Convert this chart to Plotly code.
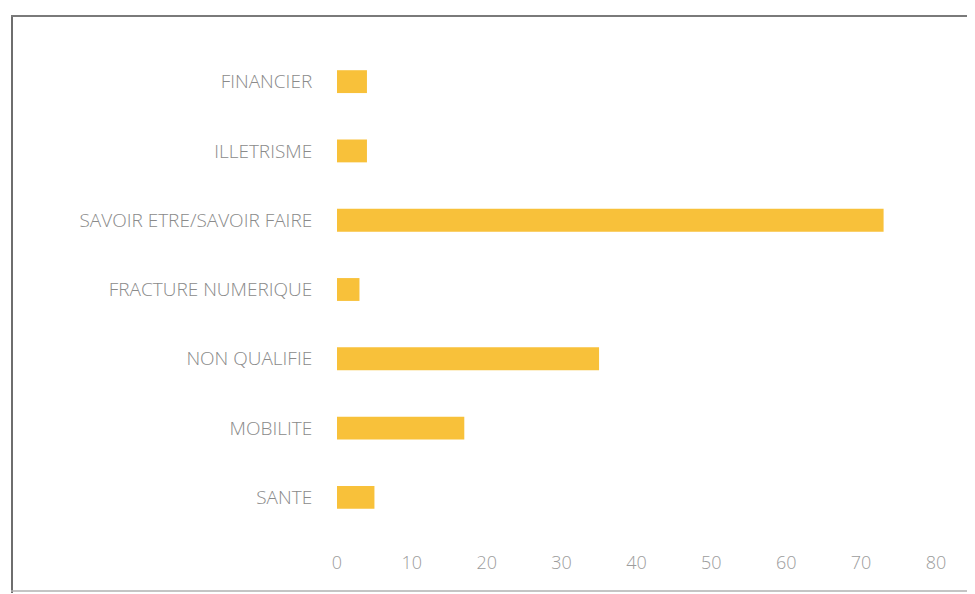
import plotly.graph_objects as go

categories = ["FINANCIER", "ILLETRISME", "SAVOIR ETRE/SAVOIR FAIRE",
              "FRACTURE NUMERIQUE", "NON QUALIFIE", "MOBILITE", "SANTE"]
values = [4, 4, 73, 3, 35, 17, 5]
x_ticks = [0, 10, 20, 30, 40, 50, 60, 70, 80]

W, H = 975, 594
OFF = 8  # page body margin
L, R, T, B = 337 - OFF, 39 + OFF, 47 - OFF, 62 + OFF
pw, ph = W - L - R, H - T - B

def px_x(p):
    return (p - OFF - L) / pw

def px_y(p):
    return (H - B - (p - OFF)) / ph

fig = go.Figure(go.Bar(
    x=values, y=categories, orientation="h",
    marker=dict(color="#F8C13A", line=dict(width=0)),
    width=0.33,
))

fig.update_layout(
    width=W, height=H,
    margin=dict(l=L, r=R, t=T, b=B),
    paper_bgcolor="white", plot_bgcolor="white",
    showlegend=False,
    font=dict(family="'Open Sans', Lato, sans-serif", color="#8c8c8c", weight=300),
    xaxis=dict(range=[0, 80], tickvals=x_ticks, showgrid=False, zeroline=False,
               showline=False, ticks="outside", ticklen=14,
               tickcolor="rgba(0,0,0,0)",
               tickfont=dict(size=18, color="#9c9c9c", weight=300)),
    yaxis=dict(categoryorder="array", categoryarray=categories[::-1],
               showgrid=False, zeroline=False, showline=False,
               ticks="outside", ticklen=20, tickcolor="rgba(0,0,0,0)",
               tickfont=dict(size=19, color="#8a8a8a", weight=300)),
    shapes=[
        dict(type="line", xref="paper", yref="paper",
             x0=px_x(12), x1=px_x(12), y0=px_y(15), y1=px_y(593),
             line=dict(color="#6e6e6e", width=2)),
        dict(type="line", xref="paper", yref="paper",
             x0=px_x(11), x1=px_x(990), y0=px_y(16), y1=px_y(16),
             line=dict(color="#7a7a7a", width=2)),
        dict(type="line", xref="paper", yref="paper",
             x0=px_x(11), x1=px_x(990), y0=px_y(591), y1=px_y(591),
             line=dict(color="#b0b0b0", width=1.5)),
    ],
)

fig.write_html("out.html")
